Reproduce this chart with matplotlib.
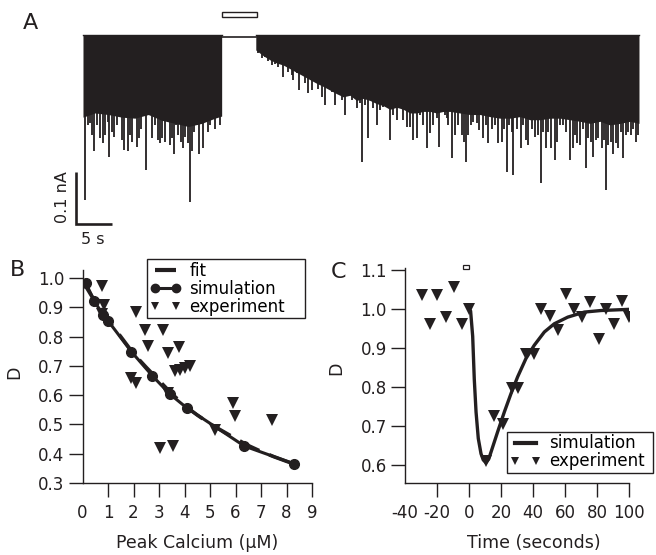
import matplotlib
matplotlib.use('Agg')
import matplotlib.pyplot as plt
import matplotlib.patches as mpatches
from matplotlib.lines import Line2D

# the reference lettering is a wide Helvetica; DejaVu Sans matches its width best
plt.rcParams['font.family'] = ['DejaVu Sans']
plt.rcParams['axes.unicode_minus'] = False

INK = '#231f20'

# ── Panel A: current trace (time in s, current in pA, downward = inward) ──
left_env_t  = [0, 1.67, 3.52, 5.37, 7.22, 9.07, 10.93, 12.78, 14.63, 16.48, 18.33, 19.26]
left_env_pa = [158, 150, 153, 158, 160, 153, 164, 170, 176, 170, 160, 156]

right_env_t  = [24.0, 25.04, 25.97, 26.89, 27.82, 28.75, 29.67, 30.6, 31.52, 32.45,
                33.37, 34.3, 35.23, 36.15, 37.08, 38.0, 38.93, 39.86, 40.78, 41.71,
                42.63, 43.56, 44.49, 45.41, 46.34, 47.26, 48.19, 49.12, 50.04, 50.97,
                52.36, 53.75, 55.14, 56.52, 57.91, 59.3, 60.69, 62.08, 63.47, 64.86,
                66.25, 67.64, 69.02, 70.41, 71.8, 73.19, 74.58, 75.97, 77.22]
right_env_pa = [29, 40, 48, 54, 58, 65, 72, 79, 86, 93,
                99, 106, 113, 119, 116, 126, 122, 126, 132, 136,
                143, 139, 143, 150, 150, 147, 147, 150, 147, 147,
                150, 153, 153, 157, 160, 160, 157, 163, 163, 160,
                160, 163, 166, 170, 166, 173, 170, 166, 170]

spike_t = [0.28, 0.65, 0.97, 1.2, 1.57, 1.9, 2.13, 2.36, 2.82, 3.06,
           3.43, 3.66, 3.98, 4.35, 4.68, 5.0, 5.37, 5.74, 5.93, 6.2,
           6.53, 6.85, 7.13, 7.45, 7.78, 8.06, 8.38, 8.7, 8.98, 9.31,
           9.63, 10.0, 10.37, 10.7, 11.02, 11.39, 11.76, 12.08, 12.32, 12.64,
           12.92, 13.24, 13.61, 13.94, 14.17, 14.54, 14.86, 15.09, 15.46, 15.79,
           16.11, 16.39, 16.71, 17.04, 17.32, 17.64, 17.96, 18.33, 18.7, 19.03,
           24.35, 24.81, 25.27, 25.74, 26.2, 26.66, 27.13, 27.73, 28.05, 28.51,
           28.98, 29.21, 29.67, 30.04, 30.37, 30.83, 31.29, 31.76, 32.22, 32.68,
           33.14, 33.61, 34.07, 34.53, 35.0, 35.46, 35.92, 36.38, 36.85, 37.31,
           37.77, 38.1, 38.47, 38.75, 39.16, 39.62, 39.86, 40.32, 40.78, 41.25,
           41.71, 42.17, 42.63, 43.1, 43.56, 44.02, 44.49, 44.95, 45.41, 45.78,
           46.11, 46.43, 46.8, 47.26, 47.73, 48.19, 48.65, 49.12, 49.49, 49.95,
           50.27, 50.5, 50.74, 51.2, 51.66, 52.13, 52.59, 52.91, 53.19, 53.52, 53.84,
           54.21, 54.67, 55.04, 55.51, 55.97, 56.29, 56.76, 57.22, 57.68, 58.15,
           58.51, 58.84, 59.21, 59.53, 59.77, 60.23, 60.78, 61.15, 61.52, 61.85,
           62.31, 62.77, 63.24, 63.61, 63.93, 64.3, 64.63, 64.99, 65.55, 65.88,
           66.25, 66.62, 67.08, 67.64, 68.01, 68.33, 68.65, 69.02, 69.39, 69.81,
           70.18, 70.55, 70.88, 71.25, 71.57, 72.03, 72.36, 72.64, 72.96, 73.28,
           73.65, 74.02, 74.35, 74.67, 75.04, 75.41, 75.74, 76.06, 76.43, 76.8,
           77.13]
spike_pa = [317, 173, 170, 192, 224, 173, 131, 199, 208, 192,
            167, 234, 186, 196, 173, 125, 202, 221, 119, 224,
            192, 205, 154, 215, 199, 180, 151, 260, 141, 141,
            199, 173, 202, 208, 199, 205, 160, 212, 199, 228,
            173, 192, 205, 218, 196, 208, 321, 224, 186, 173,
            228, 141, 218, 144, 186, 173, 160, 180, 151, 173,
            35, 45, 42, 51, 58, 55, 61, 80, 55, 71,
            77, 87, 74, 106, 77, 93, 112, 106, 90, 103,
            119, 135, 96, 109, 135, 103, 125, 154, 112, 125,
            106, 141, 131, 244, 135, 199, 112, 141, 173, 144,
            138, 138, 202, 154, 164, 141, 164, 176, 176, 202,
            141, 199, 154, 173, 218, 189, 173, 160, 215, 148,
            154, 160, 173, 237, 192, 173, 192, 205, 244, 192, 173,
            167, 170, 183, 199, 173, 208, 180, 173, 208, 205,
            180, 263, 173, 186, 269, 180, 218, 173, 202, 212,
            180, 196, 192, 285, 186, 218, 186, 218, 240, 205,
            173, 173, 186, 240, 218, 192, 208, 212, 180, 256,
            199, 205, 234, 202, 199, 218, 202, 298, 212, 205,
            228, 208, 218, 186, 237, 192, 186, 192, 180, 205,
            192]

gap_t = [19.26, 24.0]
stim_t = [19.3, 24.15]

# ── Panel B: D vs peak calcium ──
sim_ca = [0.12, 0.47, 0.80, 1.0, 1.92, 2.74, 3.42, 4.11, 6.35, 8.31]
sim_d  = [0.984, 0.921, 0.874, 0.854, 0.748, 0.666, 0.604, 0.555, 0.426, 0.365]

fit_ca = [0, 0.5, 1, 1.5, 2, 2.5, 3, 3.5, 4, 4.5, 5, 5.5, 6, 6.5, 7, 7.5, 8, 8.3]
fit_d  = [0.99, 0.918, 0.855, 0.80, 0.742, 0.695, 0.65, 0.605, 0.565, 0.532,
          0.502, 0.477, 0.452, 0.428, 0.408, 0.39, 0.374, 0.365]

exp_ca = [0.77, 0.83, 0.77, 2.09, 2.44, 3.14, 2.57, 3.79, 3.36, 3.62, 3.82,
          4.02, 4.21, 1.92, 2.09, 3.36, 5.92, 5.99, 7.43, 5.2, 3.03, 3.53]
exp_d  = [0.973, 0.908, 0.876, 0.885, 0.823, 0.823, 0.767, 0.763, 0.744, 0.682, 0.685,
          0.691, 0.699, 0.658, 0.640, 0.609, 0.572, 0.530, 0.516, 0.48, 0.421, 0.426]

# ── Panel C: D vs time ──
time_sim = [0, 1.0, 2.3, 3.3, 4.4, 5.8, 7.5, 8.9, 10.6, 12.3, 13.75, 17.9, 22.1,
            26.25, 30.4, 35.6, 40.8, 47.1, 53.3, 61.7, 72.1, 82.5, 100]
d_sim    = [1.0, 0.995, 0.93, 0.82, 0.736, 0.668, 0.629, 0.613, 0.606, 0.615, 0.633,
            0.685, 0.736, 0.783, 0.826, 0.873, 0.907, 0.941, 0.962, 0.979, 0.992,
            0.996, 0.999]

time_exp = [-29.6, -20, -24.2, -14.4, -9.2, -4.6, 0.2, 10.6, 15.4, 21.0, 26.7,
            30.8, 35.6, 40.4, 45, 50.8, 55.4, 60.6, 65.4, 70.4, 75.8, 81.5,
            85.6, 90.8, 95.4, 100.2]
d_exp    = [1.035, 1.035, 0.962, 0.979, 1.056, 0.962, 1.001, 0.609, 0.726, 0.704,
            0.797, 0.797, 0.885, 0.885, 1.001, 0.982, 0.945, 1.038, 1.001, 0.979,
            1.018, 0.922, 1.001, 0.962, 1.020, 0.979]

TICK_FS  = 12
LABEL_FS = 12.5
LEG_FS   = 12


def style_axes(ax):
    for side in ('top', 'right'):
        ax.spines[side].set_visible(False)
    for side in ('left', 'bottom'):
        ax.spines[side].set_linewidth(1.0)
        ax.spines[side].set_color(INK)
    ax.tick_params(direction='out', length=10, width=1.0, colors=INK,
                   labelsize=TICK_FS)
    ax.tick_params(axis='x', pad=5)
    ax.tick_params(axis='y', pad=3)


def boxed_legend(ax, handles, labels, x0, y0, w, h):
    # square black frame stretched to the box seen in the figure (pixels)
    leg = ax.legend(handles=handles, labels=labels, loc='upper left',
                    bbox_to_anchor=(x0 / 656, 1 - (y0 + h) / 555, w / 656, h / 555),
                    bbox_transform=fig.transFigure, mode='expand',
                    borderaxespad=0, numpoints=2, fontsize=LEG_FS,
                    handlelength=1.9, handletextpad=0.5, labelspacing=0.0,
                    borderpad=0.15, fancybox=False, framealpha=1)
    leg.get_frame().set_edgecolor(INK)
    leg.get_frame().set_linewidth(1.0)
    return leg


fig = plt.figure(figsize=(6.56, 5.55), dpi=100)

# ── A ────────────────────────────────────────────────────────────────────
axA = fig.add_axes([40 / 656, 315 / 555, 610 / 656, 240 / 555])
axA.set_xlim(-5.97, 78.75)
axA.set_ylim(-394, 67)
axA.axis('off')

axA.fill_between(left_env_t, 0, [-v for v in left_env_pa], color=INK, lw=0)
axA.fill_between(right_env_t, 0, [-v for v in right_env_pa], color=INK, lw=0)
axA.vlines(spike_t, 0, [-v for v in spike_pa], color=INK, lw=1.3)
axA.plot([left_env_t[0], left_env_t[-1]], [0, 0], color=INK, lw=1.0)
axA.plot([right_env_t[0], right_env_t[-1]], [0, 0], color=INK, lw=1.0)
axA.plot(gap_t, [-5, -5], color=INK, lw=1.2)
axA.add_patch(mpatches.Rectangle((stim_t[0], 35), stim_t[1] - stim_t[0], 9,
                                 facecolor='white', edgecolor=INK, lw=1.0))

# scale bars: 0.1 nA / 5 s
axA.plot([-0.97, -0.97, 4.03], [-263, -363, -363], color=INK, lw=1.9,
         solid_joinstyle='miter', solid_capstyle='butt')
axA.text(-2.9, -312, '0.1 nA', rotation=90, ha='center', va='center',
         fontsize=11.5, color=INK)
axA.text(1.4, -393, '5 s', ha='center', va='center', fontsize=11.5,
         color=INK, clip_on=False)

# ── B ────────────────────────────────────────────────────────────────────
axB = fig.add_axes([82.5 / 656, 72 / 555, 229.5 / 656, 213 / 555])
style_axes(axB)
axB.set_xlim(0, 9)
axB.set_ylim(0.3, 1.0273)
axB.set_xticks(range(0, 10))
axB.set_yticks([0.3, 0.4, 0.5, 0.6, 0.7, 0.8, 0.9, 1.0])
axB.set_yticklabels(['0.3', '0.4', '0.5', '0.6', '0.7', '0.8', '0.9', '1.0'])
axB.xaxis.get_major_ticks()[0].tick1line.set_visible(False)

axB.plot(fit_ca, fit_d, color=INK, lw=2.6, dashes=(6, 3), zorder=3)
axB.plot(sim_ca, sim_d, '-o', color=INK, lw=2.2, ms=7, zorder=4)
axB.plot(exp_ca, exp_d, 'v', color=INK, ms=9, mew=0, zorder=5)

boxed_legend(axB, [
        Line2D([], [], color=INK, lw=3, dashes=(7, 30)),
        Line2D([], [], color=INK, lw=2.2, marker='o', ms=6),
        Line2D([], [], color=INK, ls='none', marker='v', ms=6, mew=0)],
    ['fit', 'simulation', 'experiment'], 147, 259, 158, 58)

fig.text(197 / 656, 1 - 543 / 555, 'Peak Calcium (\u03bcM)', ha='center',
         va='center', fontsize=LABEL_FS, color=INK)
fig.text(14 / 656, 1 - 372 / 555, 'D', rotation=90, ha='center',
         va='center', fontsize=LABEL_FS, color=INK)

# ── C ────────────────────────────────────────────────────────────────────
axC = fig.add_axes([405 / 656, 72 / 555, 224 / 656, 215 / 555])
style_axes(axC)
axC.set_xlim(-40, 100)
axC.set_ylim(0.5538, 1.105)
axC.set_xticks(range(-40, 101, 20))
axC.set_yticks([0.6, 0.7, 0.8, 0.9, 1.0, 1.1])
axC.set_yticklabels(['0.6', '0.7', '0.8', '0.9', '1.0', '1.1'])
axC.xaxis.get_major_ticks()[0].tick1line.set_visible(False)

axC.plot(time_sim, d_sim, color=INK, lw=2.4, zorder=3, solid_joinstyle='round')
axC.plot(time_exp, d_exp, 'v', color=INK, ms=9, mew=0, zorder=4)
axC.add_patch(mpatches.Rectangle((-3.8, 1.103), 3.8, 0.009, facecolor='white',
                                 edgecolor=INK, lw=0.9, clip_on=False))

boxed_legend(axC, [
        Line2D([], [], color=INK, lw=3),
        Line2D([], [], color=INK, ls='none', marker='v', ms=6, mew=0)],
    ['simulation', 'experiment'], 507, 432, 146, 38)

fig.text(534 / 656, 1 - 543 / 555, 'Time (seconds)', ha='center',
         va='center', fontsize=LABEL_FS, color=INK)
fig.text(336 / 656, 1 - 368 / 555, 'D', rotation=90, ha='center',
         va='center', fontsize=LABEL_FS, color=INK)

# panel letters
fig.text(30 / 656, 1 - 23 / 555, 'A', ha='center', va='center', fontsize=16, color=INK)
fig.text(18 / 656, 1 - 270 / 555, 'B', ha='center', va='center', fontsize=16, color=INK)
fig.text(338 / 656, 1 - 272 / 555, 'C', ha='center', va='center', fontsize=16, color=INK)

fig.savefig('out.png', dpi=100)
